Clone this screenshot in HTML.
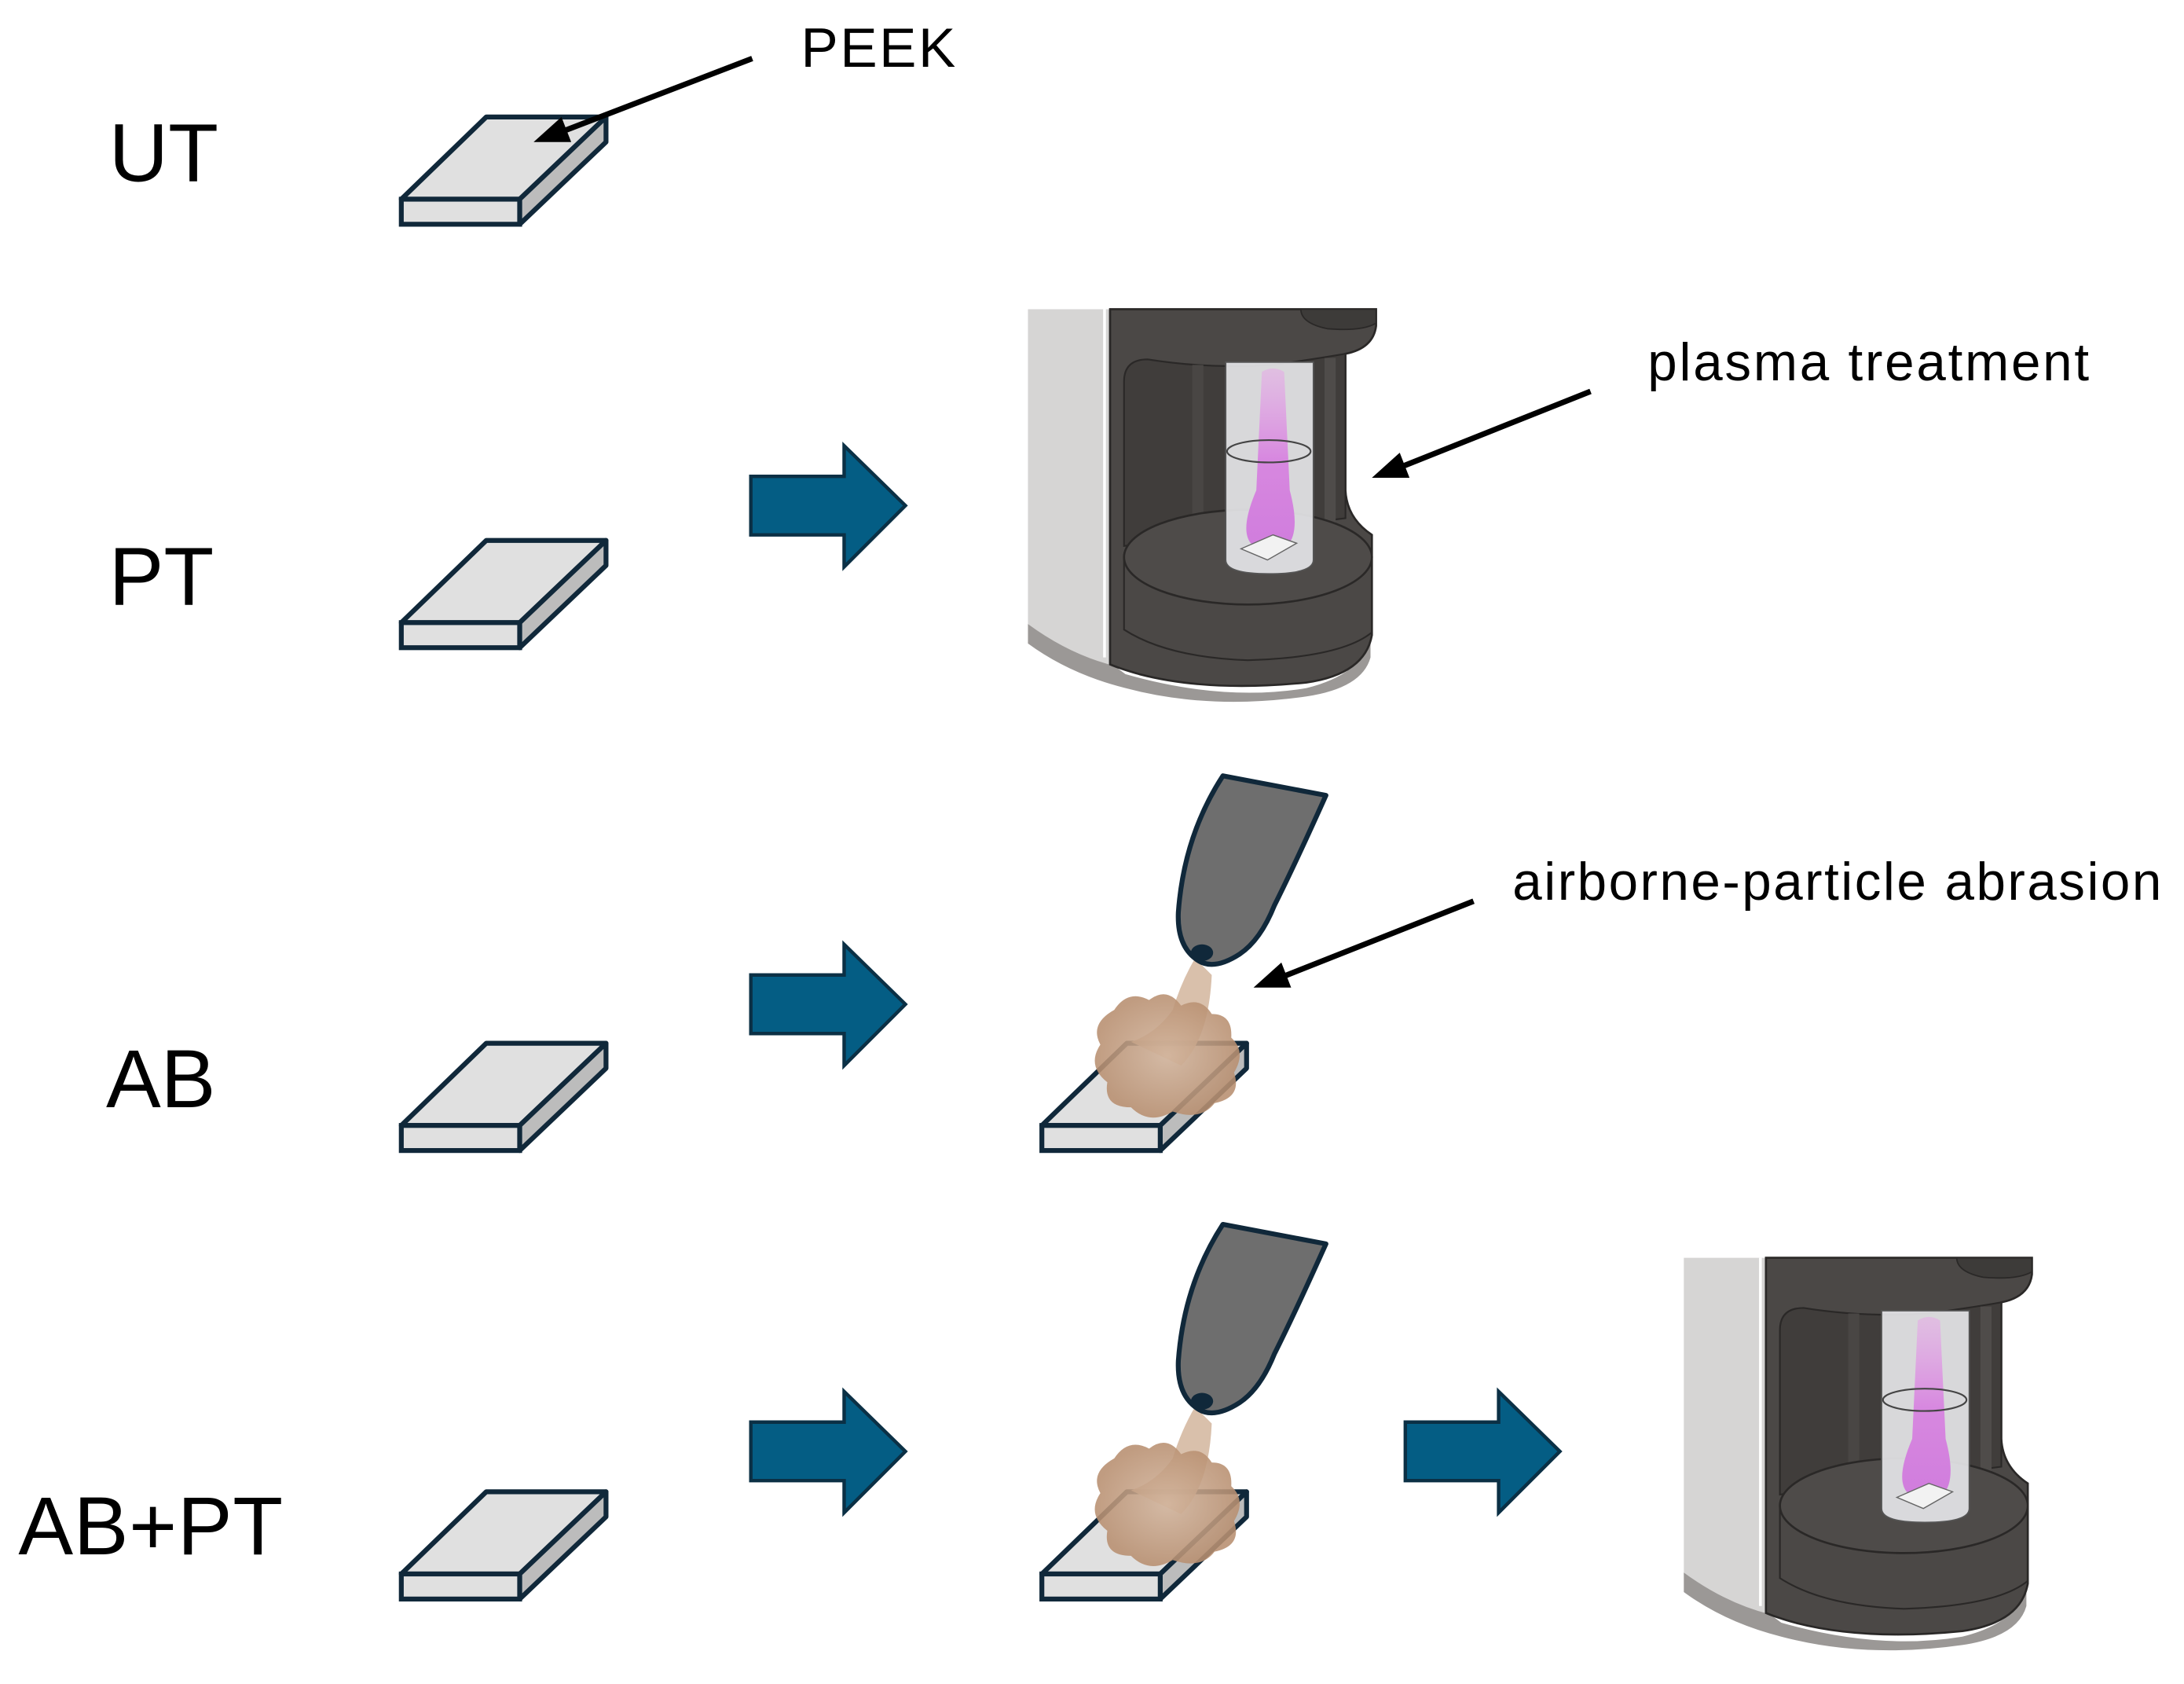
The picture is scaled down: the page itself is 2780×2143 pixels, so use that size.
<!DOCTYPE html>
<html><head><meta charset="utf-8"><style>
html,body{margin:0;padding:0;background:#fff;}
svg{display:block;}
text{font-family:"Liberation Sans",Arial,sans-serif;fill:#000;}
</style></head><body>
<svg width="2780" height="2143" viewBox="0 0 1568 1209" xmlns="http://www.w3.org/2000/svg">
<defs>
<g id="slab">
<polygon points="349,84 435,84 373,143 288,143" fill="#e0e0e0" stroke="#10283a" stroke-width="3.5" stroke-linejoin="round"/>
<polygon points="373,143 435,84 435,102 373,161" fill="#bcbcbc" stroke="#10283a" stroke-width="3.5" stroke-linejoin="round"/>
<rect x="288" y="143" width="85" height="18" fill="#e0e0e0" stroke="#10283a" stroke-width="3.5"/>
</g>
<g id="barrow">
<polygon points="539,342 606,342 606,320 650,363 606,407 606,384 539,384" fill="#045d84" stroke="#0b3045" stroke-width="2.5" stroke-linejoin="miter"/>
</g>
<linearGradient id="pl" x1="0" y1="0" x2="0" y2="1">
<stop offset="0" stop-color="#e9a0ea" stop-opacity="0.5"/>
<stop offset="0.5" stop-color="#d77fe0"/>
<stop offset="1" stop-color="#cf72dd"/>
</linearGradient>
<radialGradient id="cl" cx="0.5" cy="0.5" r="0.5">
<stop offset="0" stop-color="#d2b49c"/>
<stop offset="1" stop-color="#b88f70"/>
</radialGradient>
<g id="device">
<path d="M0,0 L62,0 L62,258 L40,252 Q20,245 0,228 Z" fill="#d6d5d4"/>
<line x1="55" y1="0" x2="55" y2="250" stroke="#ffffff" stroke-width="2"/>
<line x1="59" y1="0" x2="59" y2="255" stroke="#3a3836" stroke-width="1.5"/>
<path d="M0,226 Q30,248 62,256 L70,262 Q140,282 200,272 Q240,262 246,236 L246,250 Q240,272 200,278 Q130,288 70,272 Q30,262 0,240 Z" fill="#9b9896"/>
<path d="M59,0 L250,0 L250,12 Q248,28 228,32 L228,130 Q229,150 247,162 L247,234 Q242,262 200,268 Q130,275 80,262 Q66,258 59,255 Z" fill="#4b4846" stroke="#2a2827" stroke-width="1.5"/>
<path d="M196,0 L250,0 L250,10 Q240,16 215,14 Q196,10 196,0 Z" fill="#3d3b39" stroke="#2a2827" stroke-width="1"/>
<path d="M69,52 Q69,36 86,36 Q130,43 175,40 Q205,36 228,32 L228,150 L69,170 Z" fill="#403d3b" stroke="#2a2827" stroke-width="1.2"/>
<rect x="118" y="40" width="8" height="120" fill="#494644"/>
<rect x="213" y="35" width="8" height="120" fill="#4f4c4a"/>
<ellipse cx="158" cy="178" rx="89" ry="34" fill="#4e4b49" stroke="#2a2827" stroke-width="1.5"/>
<path d="M69,178 L69,230 Q100,250 158,252 Q225,250 247,232 L247,178" fill="none" stroke="#2a2827" stroke-width="1.2"/>
<path d="M142,38 L205,38 L205,180 Q205,190 173,190 Q142,190 142,180 Z" fill="#e9e9ec" fill-opacity="0.9" stroke="#555" stroke-width="1"/>
<path d="M168,45 Q176,40 184,45 L188,130 Q196,160 186,170 Q172,176 160,168 Q152,158 164,130 Z" fill="url(#pl)" opacity="0.9"/>
<ellipse cx="173" cy="102" rx="30" ry="8" fill="none" stroke="#444" stroke-width="1.2"/>
<polygon points="153,172 176,162 193,168 172,180" fill="#f2f2f2" stroke="#666" stroke-width="0.8"/>
</g>
<g id="abr">
<path d="M858,688 Q848,705 842,725 Q830,742 812,748 L848,765 Q868,745 870,700 Z" fill="#d5b9a2" opacity="0.9"/>
<path d="M800,725 Q810,710 825,718 Q838,708 848,722 Q862,715 870,728 Q885,728 884,745 Q895,755 886,770 Q892,788 872,792 Q862,805 842,798 Q825,808 812,795 Q792,795 795,777 Q780,765 790,750 Q782,735 800,725 Z" fill="url(#cl)" opacity="0.88"/>
<path d="M878,557 L952,571 Q930,620 915,650 Q905,675 890,685 Q870,698 858,688 Q845,678 846,655 Q850,600 878,557 Z" fill="#6e6e6e" stroke="#10283a" stroke-width="3.5" stroke-linejoin="round"/>
<ellipse cx="863" cy="684" rx="8" ry="6" fill="#10283a"/>
</g>
</defs>

<text x="78" y="130" font-size="59">UT</text>
<text x="78" y="434" font-size="59">PT</text>
<text x="76" y="795" font-size="59">AB</text>
<text x="13" y="1116" font-size="59" textLength="190">AB+PT</text>

<text x="575" y="48" font-size="40" textLength="111">PEEK</text>
<text x="1183" y="273" font-size="38" textLength="317">plasma treatment</text>
<text x="1086" y="646" font-size="38" textLength="466">airborne-particle abrasion</text>

<use href="#slab"/>
<use href="#slab" transform="translate(0,304)"/>
<use href="#slab" transform="translate(0,665)"/>
<use href="#slab" transform="translate(0,987)"/>

<use href="#slab" transform="translate(460,665)"/>
<use href="#slab" transform="translate(460,987)"/>
<use href="#abr"/>
<use href="#abr" transform="translate(0,322)"/>

<use href="#barrow"/>
<use href="#barrow" transform="translate(0,358)"/>
<use href="#barrow" transform="translate(0,679)"/>
<use href="#barrow" transform="translate(470,679)"/>

<use href="#device" transform="translate(738,222)"/>
<use href="#device" transform="translate(1209,903)"/>

<g stroke="#000" stroke-width="4" fill="#000">
<line x1="540" y1="42" x2="402" y2="95"/>
<polygon points="383,102 403,84 410,102" stroke="none"/>
<line x1="1142" y1="281" x2="1004" y2="336"/>
<polygon points="985,343 1005,325 1012,343" stroke="none"/>
<line x1="1058" y1="647" x2="919" y2="702"/>
<polygon points="900,709 920,691 927,709" stroke="none"/>
</g>
</svg>
</body></html>
